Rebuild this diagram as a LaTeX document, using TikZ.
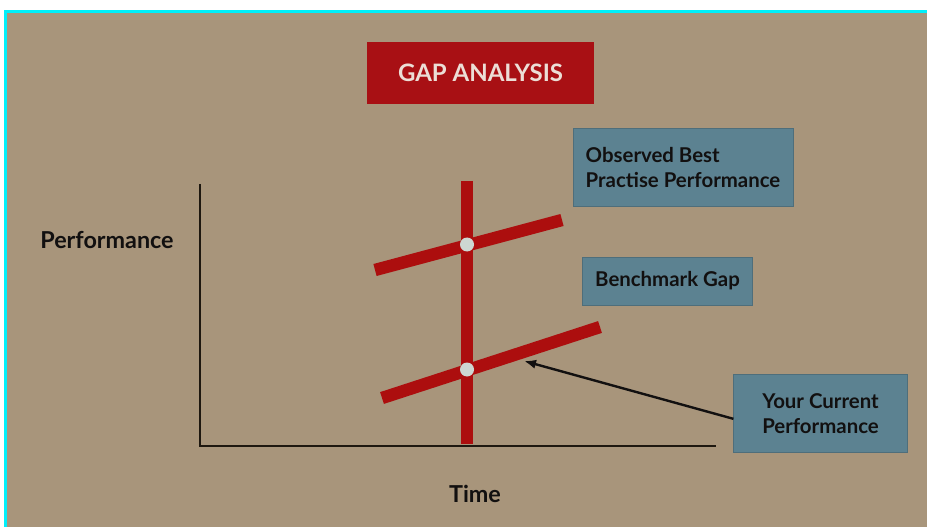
\documentclass[tikz,border=0pt]{standalone}
\usepackage{fontspec}
\setmainfont{Lato}
\usetikzlibrary{arrows.meta}
\definecolor{bgtan}{RGB}{168,149,123}
\definecolor{edgecyan}{RGB}{0,240,250}
\definecolor{titlered}{RGB}{168,16,20}
\definecolor{barred}{RGB}{172,14,14}
\definecolor{boxblue}{RGB}{92,130,145}
\definecolor{dotgrey}{RGB}{205,215,210}
\definecolor{axisdark}{RGB}{30,24,16}
\definecolor{inkdark}{RGB}{18,16,16}
\definecolor{titleink}{RGB}{236,222,214}
\tikzset{
  infobox/.style={fill=boxblue, draw=boxblue!85!black, line width=0.6pt,
    text=inkdark, font=\bfseries\fontsize{15.3}{19}\selectfont, align=left, inner sep=0pt},
  axislabel/.style={text=inkdark, font=\bfseries\fontsize{17.5}{20}\selectfont, inner sep=0pt},
  redbar/.style={barred, line width=9.3pt},
  axisline/.style={axisdark, line width=2.2pt},
  gapdot/.style={circle, fill=dotgrey, minimum size=10.5pt, inner sep=0pt},
  pointer/.style={inkdark, line width=1.8pt, -{Latex[length=9pt,width=7pt]}}
}
\begin{document}
\begin{tikzpicture}[x=0.75pt,y=-0.75pt]
  % page, frame edges and backdrop
  \fill[white] (0,0) rectangle (927,527);
  \fill[edgecyan] (4,10) rectangle (927,527);
  \fill[bgtan] (7,13) rectangle (927,527);
  \useasboundingbox (0,0) rectangle (927,527);

  % title banner
  \node[fill=titlered, minimum width=170pt, minimum height=46pt, text=titleink,
        font=\bfseries\fontsize{18}{20}\selectfont] (title) at (480.5,73) {GAP ANALYSIS};

  % axes
  \coordinate (ytop) at (200,184);
  \coordinate (origin) at (200,446);
  \coordinate (xend) at (716,446);
  \draw[axisline] (ytop) -- (origin) -- (xend);
  \node[axislabel] (perf) at (107,240) {Performance};
  \node[axislabel] (time) at (475,494) {Time};

  % time marker and the two performance trends
  \coordinate (mtop) at (467,181);
  \coordinate (mbot) at (467,444);
  \coordinate (bestA) at (375,270);
  \coordinate (bestB) at (562,220);
  \coordinate (curA) at (382,398);
  \coordinate (curB) at (600,327);
  \draw[redbar] (mtop) -- (mbot);
  \draw[redbar] (bestA) -- (bestB);
  \draw[redbar] (curA) -- (curB);
  \node[gapdot] (bestdot) at (467,244.5) {};
  \node[gapdot] (curdot) at (467,369.5) {};

  % labels
  \node[infobox, minimum width=165pt, minimum height=59pt] (best) at (683,167.5)
    {Observed Best\\Practise Performance};
  \node[infobox, minimum width=127pt, minimum height=36pt] (gap) at (667.5,281)
    {Benchmark Gap};
  \node[infobox, minimum width=130pt, minimum height=59pt, align=center] (current) at (820.5,413.5)
    {Your Current\\Performance};

  % pointer from the current-performance label to its trend line
  \coordinate (curtip) at (524,361);
  \draw[pointer] ([yshift=-4pt]current.west) -- (curtip);
\end{tikzpicture}
\end{document}
